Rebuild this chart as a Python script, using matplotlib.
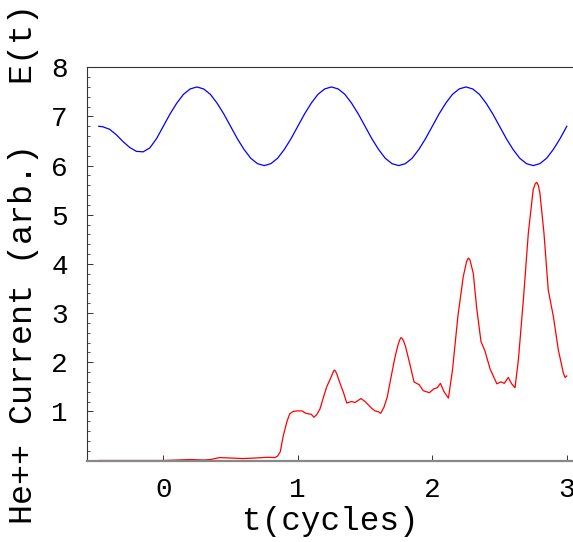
import matplotlib
matplotlib.use("Agg")
import matplotlib.pyplot as plt
from matplotlib.ticker import MultipleLocator

# field E(t)
e_t = [-0.48, -0.45, -0.40, -0.35, -0.30, -0.25, -0.20, -0.15, -0.10, -0.05,
       0.00, 0.05, 0.10, 0.15, 0.20, 0.25, 0.30, 0.35, 0.40, 0.45,
       0.50, 0.55, 0.60, 0.65, 0.70, 0.75, 0.80, 0.85, 0.90, 0.95,
       1.00, 1.05, 1.10, 1.15, 1.20, 1.25, 1.30, 1.35, 1.40, 1.45,
       1.50, 1.55, 1.60, 1.65, 1.70, 1.75, 1.80, 1.85, 1.90, 1.95,
       2.00, 2.05, 2.10, 2.15, 2.20, 2.25, 2.30, 2.35, 2.40, 2.45,
       2.50, 2.55, 2.60, 2.65, 2.70, 2.75, 2.80, 2.85, 2.90, 2.95, 3.00]
e_val = [6.80, 6.79, 6.74, 6.63, 6.49, 6.37, 6.29, 6.28, 6.36, 6.55,
         6.80, 7.05, 7.27, 7.45, 7.56, 7.60, 7.56, 7.45, 7.27, 7.05,
         6.80, 6.55, 6.33, 6.15, 6.04, 6.00, 6.04, 6.15, 6.33, 6.55,
         6.80, 7.05, 7.27, 7.45, 7.56, 7.60, 7.56, 7.45, 7.27, 7.05,
         6.80, 6.55, 6.33, 6.15, 6.04, 6.00, 6.04, 6.15, 6.33, 6.55,
         6.80, 7.05, 7.27, 7.45, 7.56, 7.60, 7.56, 7.45, 7.27, 7.05,
         6.80, 6.55, 6.33, 6.15, 6.04, 6.00, 6.04, 6.15, 6.33, 6.55, 6.80]

# He++ current
cur_t = [-0.48, 0.0, 0.1, 0.2, 0.3, 0.35, 0.42, 0.5, 0.59, 0.68, 0.77, 0.83,
         0.85, 0.87, 0.89, 0.92, 0.94, 0.967, 1.0, 1.03, 1.06, 1.10, 1.12,
         1.14, 1.165, 1.19, 1.215, 1.245, 1.26, 1.27, 1.28, 1.29, 1.31, 1.34, 1.364,
         1.40, 1.425, 1.47, 1.50, 1.525, 1.55, 1.574, 1.60, 1.616, 1.64,
         1.665, 1.69, 1.723, 1.745, 1.757, 1.767, 1.777, 1.785, 1.80, 1.834, 1.864, 1.903,
         1.933, 1.978, 2.013, 2.037, 2.06, 2.087, 2.12, 2.15, 2.19, 2.23,
         2.255, 2.268, 2.28, 2.29, 2.305, 2.33, 2.362, 2.39, 2.43, 2.48, 2.51, 2.535,
         2.565, 2.59, 2.615, 2.64, 2.677, 2.714, 2.75, 2.765, 2.776, 2.788, 2.80, 2.83,
         2.862, 2.90, 2.937, 2.974, 2.987, 3.0]
cur_val = [0.0, 0.0, 0.01, 0.02, 0.01, 0.02, 0.06, 0.05, 0.04, 0.05, 0.065, 0.06,
           0.09, 0.18, 0.48, 0.80, 0.95, 1.0, 1.01, 1.01, 0.96, 0.94, 0.88,
           0.93, 1.05, 1.28, 1.50, 1.68, 1.78, 1.84, 1.82, 1.76, 1.60, 1.38, 1.17,
           1.20, 1.18, 1.26, 1.20, 1.13, 1.06, 1.01, 0.99, 0.96, 1.08,
           1.29, 1.65, 2.11, 2.35, 2.45, 2.50, 2.48, 2.44, 2.33, 1.95, 1.60, 1.54,
           1.42, 1.38, 1.46, 1.48, 1.57, 1.40, 1.27, 1.84, 2.93, 3.74,
           4.05, 4.12, 4.08, 3.97, 3.80, 3.10, 2.42, 2.24, 1.86, 1.56, 1.60, 1.57,
           1.69, 1.56, 1.48, 2.05, 3.27, 4.63, 5.51, 5.63, 5.66, 5.60, 5.44, 4.63,
           3.47, 2.93, 2.25, 1.78, 1.69, 1.72]

xticks = [0, 1, 2, 3]
yticks = [1, 2, 3, 4, 5, 6, 7, 8]

font = "Liberation Mono"

fig = plt.figure(figsize=(5.73, 5.42), dpi=100)
ax = fig.add_axes([87.3 / 573, 81.5 / 542, (573 - 87.3) / 573, 393.2 / 542])

ax.plot(e_t, e_val, color="#0000ff", lw=0.9)
ax.plot(cur_t, cur_val, color="#ff0000", lw=0.9)

ax.set_xlim(-0.565, 3.046)
ax.set_ylim(0, 8)

ax.spines["right"].set_visible(False)
ax.spines["top"].set_color("#333333")
ax.spines["top"].set_linewidth(0.8)
ax.spines["left"].set_color("#333333")
ax.spines["left"].set_linewidth(0.8)
ax.spines["bottom"].set_color("#888888")
ax.spines["bottom"].set_linewidth(1.6)

ax.set_xticks(xticks)
ax.set_yticks(yticks)
ax.yaxis.set_minor_locator(MultipleLocator(0.2))
ax.tick_params(axis="y", which="major", direction="in", length=4, width=0.7,
               color="#333333", pad=14, labelsize=20)
ax.tick_params(axis="y", which="minor", direction="in", length=2, width=0.6,
               color="#333333")
ax.tick_params(axis="x", which="major", direction="in", length=4, width=0.7,
               color="#333333", pad=12, labelsize=20)
for lab in ax.get_xticklabels() + ax.get_yticklabels():
    lab.set_family(font)

ax.set_xlabel("t(cycles)", family=font, fontsize=23.5, labelpad=2)
ax.set_ylabel("He++ Current (arb.)   E(t)", family=font, fontsize=24, labelpad=9)

fig.savefig("out.png", dpi=100)
